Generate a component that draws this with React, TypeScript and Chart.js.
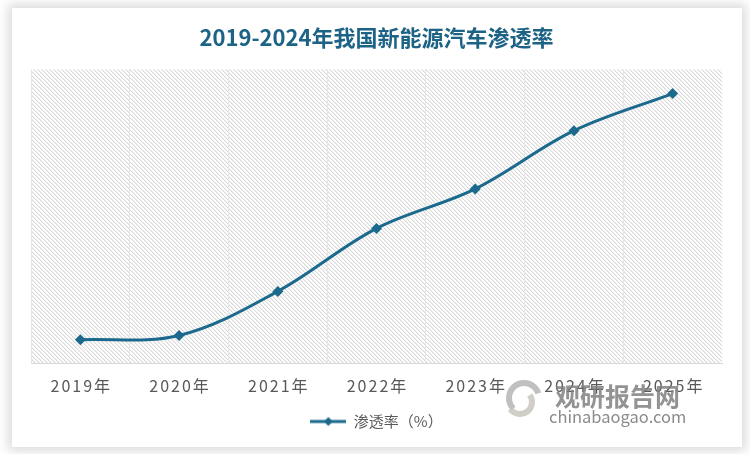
import { useEffect, useRef } from 'react';
import { Chart, registerables } from 'chart.js';

Chart.register(...registerables);

const categories = ['2019年', '2020年', '2021年', '2022年', '2023年', '2024年', '2025年'];
const penetration = [4.1, 4.8, 12.3, 23.0, 29.7, 39.6, 45.9];
const titleText = '2019-2024年我国新能源汽车渗透率';
const seriesName = '渗透率（%）';
const yMin = 0;
const yMax = 50;
const watermarkCn = '观研报告网';
const watermarkEn = 'chinabaogao.com';

const LINE = '#1b6a8e';
const TITLE = '#1d6386';
const LABEL = '#595959';
const FONT = '"Noto Sans CJK SC", "Noto Sans", sans-serif';

function makeHatch(ctx: CanvasRenderingContext2D): CanvasPattern | string {
  const t = document.createElement('canvas');
  t.width = 4;
  t.height = 4;
  const c = t.getContext('2d');
  if (!c) return '#f0f0f0';
  c.fillStyle = '#ffffff';
  c.fillRect(0, 0, 4, 4);
  for (let i = 0; i < 4; i++) {
    c.fillStyle = '#dadada';
    c.fillRect(i, i, 1, 1);
    c.fillStyle = '#efefef';
    c.fillRect((i + 1) % 4, i, 1, 1);
  }
  return ctx.createPattern(t, 'repeat') || '#f0f0f0';
}

function makeLegendImage(): HTMLCanvasElement {
  const c = document.createElement('canvas');
  c.width = 36;
  c.height = 12;
  const g = c.getContext('2d');
  if (g) {
    g.strokeStyle = LINE;
    g.lineWidth = 3;
    g.beginPath();
    g.moveTo(0, 6);
    g.lineTo(36, 6);
    g.stroke();
    g.fillStyle = LINE;
    g.beginPath();
    g.moveTo(18, 1.5);
    g.lineTo(22.5, 6);
    g.lineTo(18, 10.5);
    g.lineTo(13.5, 6);
    g.closePath();
    g.fill();
  }
  return c;
}

export default function App() {
  const ref = useRef<HTMLCanvasElement | null>(null);

  useEffect(() => {
    const canvas = ref.current;
    if (!canvas) return;
    const ctx0 = canvas.getContext('2d');
    if (!ctx0) return;
    const hatch = makeHatch(ctx0);
    const legendImg = makeLegendImage();

    const bgPlugin = {
      id: 'hatchBg',
      beforeDraw(chart: any) {
        const { ctx, chartArea } = chart;
        ctx.save();
        ctx.fillStyle = hatch;
        ctx.fillRect(chartArea.left, chartArea.top, chartArea.right - chartArea.left, chartArea.bottom - chartArea.top);
        ctx.restore();
      },
    };

    const xLabelPlugin = {
      id: 'xLabels',
      afterDraw(chart: any) {
        const { ctx, chartArea } = chart;
        const xs = chart.scales.x;
        ctx.save();
        ctx.font = `16px ${FONT}`;
        (ctx as any).letterSpacing = '2px';
        ctx.fillStyle = LABEL;
        ctx.textAlign = 'center';
        ctx.textBaseline = 'middle';
        categories.forEach((lab, i) => {
          const x = xs.getPixelForTick(i);
          ctx.fillText(lab, x + 1, chartArea.bottom + 22);
        });
        ctx.restore();
      },
    };

    const watermarkPlugin = {
      id: 'watermark',
      afterDraw(chart: any) {
        const { ctx } = chart;
        ctx.save();
        ctx.globalAlpha = 0.85;
        ctx.strokeStyle = '#b5b5b5';
        ctx.lineWidth = 6;
        ctx.beginPath();
        ctx.arc(512, 390, 15, Math.PI * 0.75, Math.PI * 1.9);
        ctx.stroke();
        ctx.strokeStyle = '#c9c6bd';
        ctx.beginPath();
        ctx.arc(508, 394, 12, Math.PI * -0.2, Math.PI * 0.8);
        ctx.stroke();
        ctx.fillStyle = '#808080';
        ctx.font = `bold 25px ${FONT}`;
        ctx.textAlign = 'left';
        ctx.textBaseline = 'middle';
        ctx.fillText(watermarkCn, 543, 388);
        ctx.fillStyle = '#767676';
        ctx.font = `16.5px ${FONT}`;
        ctx.fillText(watermarkEn, 537, 409);
        ctx.restore();
      },
    };

    const chart = new Chart(canvas, {
      type: 'line',
      data: {
        labels: categories,
        datasets: [
          {
            label: seriesName,
            data: penetration,
            borderColor: LINE,
            backgroundColor: LINE,
            borderWidth: 3,
            tension: 0.35,
            pointStyle: 'rectRot',
            pointRadius: 5.5,
            pointBackgroundColor: LINE,
            pointBorderColor: LINE,
            pointBorderWidth: 0,
            fill: false,
          },
        ],
      },
      options: {
        responsive: false,
        animation: false,
        devicePixelRatio: 1,
        layout: { padding: { left: 19, right: 20, top: 0, bottom: 8 } },
        scales: {
          x: {
            offset: true,
            grid: {
              offset: true,
              drawTicks: false,
              color: (c: any) => (c.type === 'tick' ? '#e6e6e6' : 'rgba(0,0,0,0)'),
              lineWidth: 1,
            },
            border: { display: true, color: '#d9d9d9', width: 1 },
            ticks: {
              color: 'rgba(0,0,0,0)',
              padding: 11,
              font: { size: 16, family: FONT },
            },
          },
          y: {
            display: false,
            min: yMin,
            max: yMax,
          },
        },
        plugins: {
          title: {
            display: true,
            text: titleText,
            color: TITLE,
            font: { size: 22, weight: 'bold', family: FONT },
            padding: { top: 16, bottom: 19 },
          },
          legend: {
            display: true,
            position: 'bottom',
            labels: {
              usePointStyle: true,
              pointStyleWidth: 36,
              padding: 9,
              color: LABEL,
              font: { size: 15, family: FONT },
              generateLabels: () => [
                {
                  text: seriesName,
                  pointStyle: legendImg,
                  fillStyle: LINE,
                  strokeStyle: LINE,
                  lineWidth: 0,
                  hidden: false,
                  datasetIndex: 0,
                  fontColor: LABEL,
                } as any,
              ],
            },
          },
          tooltip: { enabled: false },
        },
      },
      plugins: [bgPlugin, xLabelPlugin, watermarkPlugin],
    } as any);

    return () => chart.destroy();
  }, []);

  return (
    <div style={{ position: 'fixed', left: 0, top: 0, width: 750, height: 454, background: '#ffffff', overflow: 'hidden' }}>
      <div
        style={{
          position: 'absolute',
          left: 12,
          top: 8,
          width: 730,
          height: 439,
          background: '#ffffff',
          boxShadow: '0 0 10px 4px rgba(0,0,0,0.14)',
        }}
      >
        <canvas ref={ref} width={730} height={439} style={{ display: 'block', width: 730, height: 439 }} />
      </div>
    </div>
  );
}
